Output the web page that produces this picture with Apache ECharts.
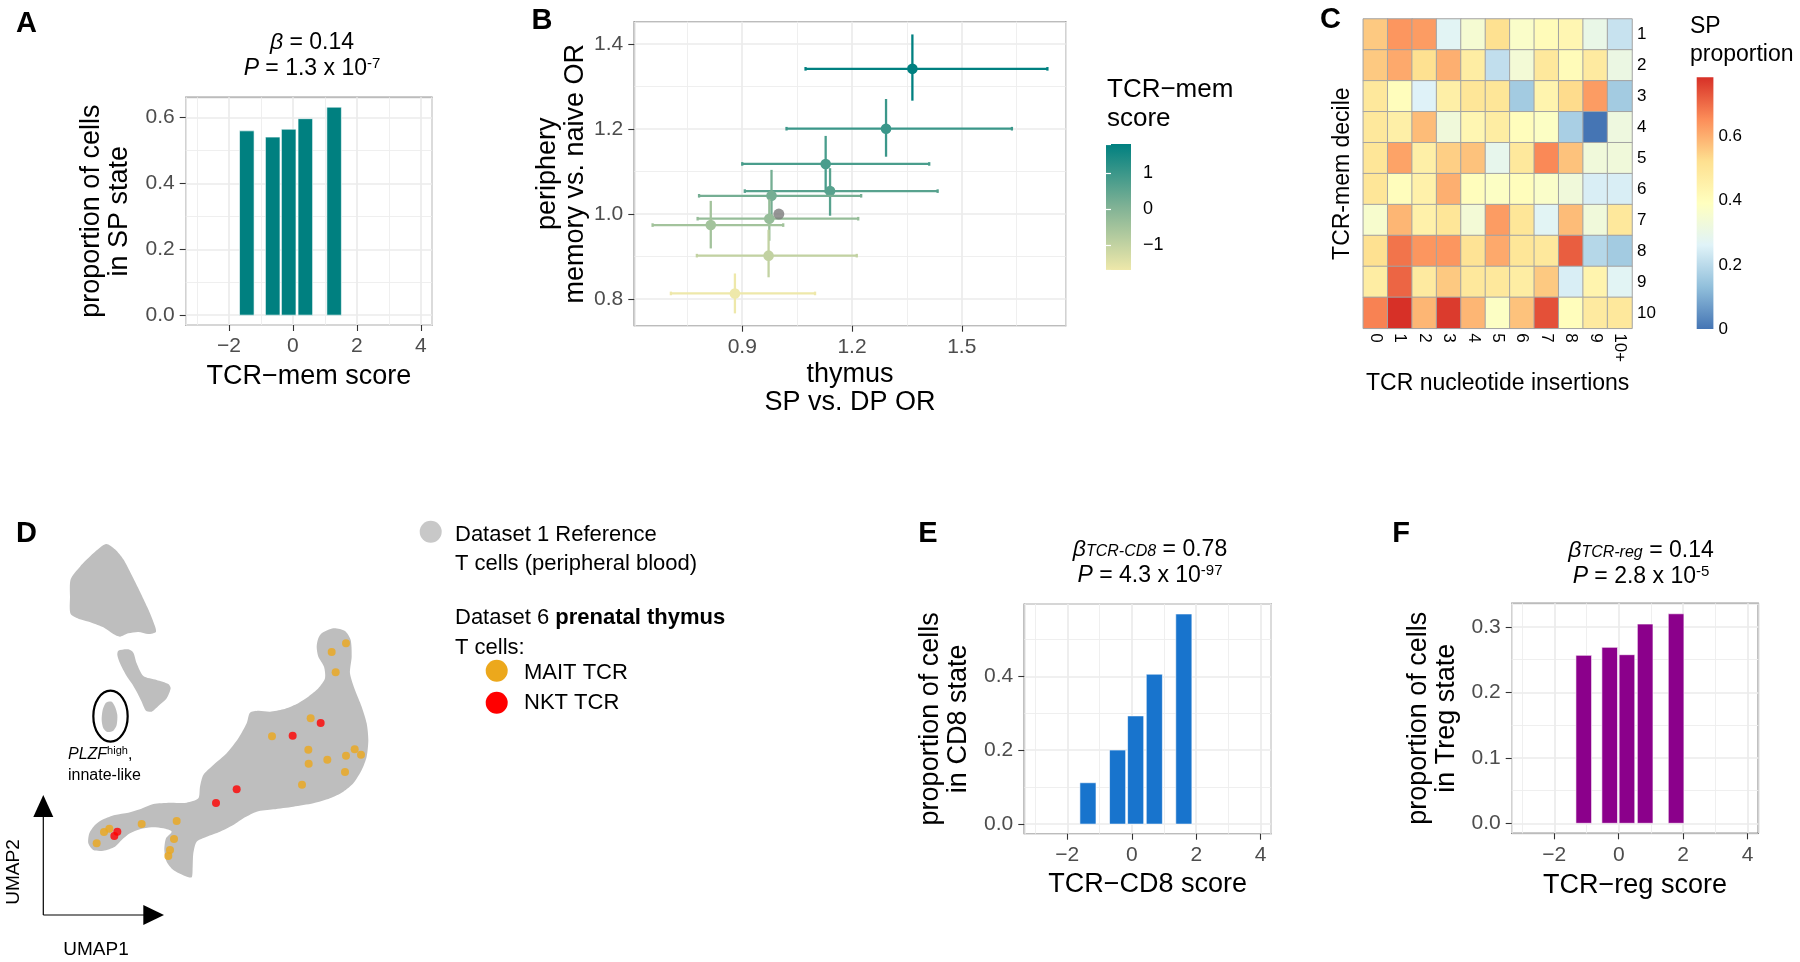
<!DOCTYPE html>
<html><head><meta charset="utf-8">
<script src="https://cdn.jsdelivr.net/npm/echarts@6/dist/echarts.min.js"></script>
<style>html,body{margin:0;padding:0;background:#fff}#c{width:1800px;height:962px}</style>
</head><body><div id="c"></div>
<script>
// ---------------- Panel A : TCR-mem score vs SP proportion
const aScore = [-1.44, -0.63, -0.13, 0.39, 1.29];
const aProp  = [0.560, 0.541, 0.565, 0.597, 0.632];

// ---------------- Panel B : odds ratios by TCR-mem score decile
const bThymusOR = [1.365, 1.293, 1.128, 1.140, 0.980, 0.974, 0.814, 0.972, 0.880];
const bThymusLo = [1.073, 1.021, 0.900, 0.907, 0.782, 0.778, 0.655, 0.776, 0.705];
const bThymusHi = [1.734, 1.637, 1.411, 1.434, 1.225, 1.217, 1.012, 1.213, 1.099];
const bPeriphOR = [1.342, 1.201, 1.118, 1.054, 1.043, 0.989, 0.974, 0.902, 0.813];
const bPeriphLo = [1.267, 1.135, 1.050, 0.996, 0.986, 0.937, 0.919, 0.851, 0.766];
const bPeriphHi = [1.423, 1.271, 1.184, 1.108, 1.104, 1.035, 1.031, 0.963, 0.860];
const bMemScore = [1.8, 1.0, 0.8, 0.6, 0.2, -0.3, -0.5, -1.0, -1.7];
const bReference = [1.0, 1.0];

// ---------------- Panel C : SP proportion heatmap
const insertionLabels = ['0','1','2','3','4','5','6','7','8','9','10+'];
const decileLabels = ['1','2','3','4','5','6','7','8','9','10'];
const spProp = [
  [0.56, 0.64, 0.63, 0.27, 0.35, 0.52, 0.37, 0.41, 0.43, 0.30, 0.22],
  [0.56, 0.61, 0.52, 0.60, 0.47, 0.21, 0.34, 0.49, 0.41, 0.48, 0.31],
  [0.49, 0.40, 0.26, 0.46, 0.50, 0.50, 0.16, 0.44, 0.53, 0.63, 0.16],
  [0.49, 0.46, 0.58, 0.33, 0.43, 0.47, 0.40, 0.38, 0.17, 0.00, 0.32],
  [0.50, 0.62, 0.46, 0.55, 0.57, 0.29, 0.49, 0.66, 0.57, 0.33, 0.33],
  [0.50, 0.40, 0.45, 0.60, 0.40, 0.38, 0.40, 0.37, 0.33, 0.25, 0.25],
  [0.36, 0.59, 0.45, 0.50, 0.34, 0.63, 0.50, 0.27, 0.58, 0.33, 0.49],
  [0.52, 0.69, 0.64, 0.64, 0.51, 0.61, 0.50, 0.49, 0.72, 0.19, 0.16],
  [0.47, 0.71, 0.48, 0.56, 0.49, 0.49, 0.47, 0.56, 0.25, 0.44, 0.27],
  [0.67, 0.785, 0.59, 0.77, 0.59, 0.38, 0.57, 0.74, 0.40, 0.48, 0.49]
];

// ---------------- Panel D : UMAP (reference outline + query cells), UMAP units
const umapUpper = [[3.18,12.54],[3.45,12.38],[3.70,12.08],[3.95,11.61],[4.20,11.11],[4.42,10.64],[4.58,10.26],[4.68,9.91],[4.45,9.84],[4.15,9.90],[3.85,9.86],[3.60,9.76],[3.40,9.84],[3.10,10.04],[2.75,10.18],[2.40,10.28],[2.12,10.44],[2.10,10.96],[2.12,11.48],[2.40,11.86],[2.80,12.26]];
const umapMiddle = [[3.55,9.34],[3.85,9.38],[4.00,9.28],[4.10,8.96],[4.30,8.58],[4.70,8.46],[5.05,8.34],[5.12,8.21],[5.00,7.91],[4.75,7.68],[4.55,7.51],[4.38,7.54],[4.25,7.81],[4.10,8.11],[3.95,8.36],[3.78,8.61],[3.60,8.96],[3.52,9.21]];
const umapIsland = [[3.18,7.78],[3.35,7.81],[3.45,7.66],[3.52,7.41],[3.50,7.11],[3.40,6.94],[3.22,6.90],[3.10,7.01],[3.05,7.26],[3.08,7.56]];
const umapMain = [[9.65,9.86],[10.00,10.01],[10.35,9.93],[10.52,9.66],[10.55,9.16],[10.50,8.66],[10.65,8.16],[10.85,7.66],[11.00,7.16],[11.05,6.66],[11.00,6.16],[10.85,5.76],[10.60,5.36],[10.30,5.11],[9.90,4.91],[9.40,4.76],[8.80,4.66],[8.20,4.58],[7.70,4.51],[7.35,4.34],[7.00,4.11],[6.60,3.91],[6.20,3.76],[5.90,3.61],[5.80,3.26],[5.78,2.86],[5.75,2.54],[5.55,2.58],[5.20,2.76],[5.00,3.01],[4.93,3.36],[4.98,3.71],[5.15,3.91],[4.90,4.01],[4.55,4.04],[4.20,3.98],[3.90,3.86],[3.65,3.66],[3.45,3.46],[3.10,3.34],[2.80,3.36],[2.65,3.56],[2.68,3.86],[2.85,4.11],[3.10,4.28],[3.45,4.41],[3.85,4.48],[4.20,4.58],[4.60,4.74],[5.10,4.78],[5.60,4.78],[5.95,4.91],[6.00,5.26],[6.10,5.61],[6.40,5.91],[6.80,6.26],[7.15,6.71],[7.40,7.16],[7.50,7.48],[7.75,7.54],[8.10,7.51],[8.50,7.58],[8.90,7.74],[9.25,7.96],[9.55,8.21],[9.75,8.51],[9.72,8.86],[9.55,9.16],[9.50,9.46],[9.55,9.71]];
const plzfCluster = [3.315, 7.375, 0.515, 0.765]; // centre u1, u2 and half-extents
const maitU1 = [10.38, 9.95, 10.07, 9.32, 8.16, 9.25, 9.26, 9.82, 10.38, 10.64, 10.83, 10.35, 9.06, 5.30, 4.25, 5.22, 5.10, 5.05, 2.90, 3.12, 3.28];
const maitU2 = [9.56, 9.30, 8.69, 7.31, 6.77, 6.37, 5.95, 6.07, 6.19, 6.38, 6.22, 5.70, 5.32, 4.23, 4.14, 3.69, 3.36, 3.18, 3.56, 3.90, 4.00];
const nktU1 = [9.62, 8.78, 7.10, 6.48, 3.52, 3.43];
const nktU2 = [7.17, 6.79, 5.18, 4.77, 3.91, 3.78];

// ---------------- Panel E / F
const eScore = [-1.36, -0.44, 0.12, 0.70, 1.615];
const eProp  = [0.112, 0.2005, 0.293, 0.406, 0.569];
const fScore = [-1.085, -0.28, 0.255, 0.82, 1.78];
const fProp  = [0.2565, 0.2687, 0.2575, 0.3043, 0.320];

// ================= styling helpers
const FONT = "'Liberation Sans', Arial, Helvetica, sans-serif";
const minusFmt = v => (v < 0 ? '\u2212' : '') + Math.abs(v);
const dec1 = v => v.toFixed(1);
const memColors = ['#EEE8AA', '#80B295', '#008080'];
const rdylbu = ['#4575B4', '#91BFDB', '#E0F3F8', '#FFFFBF', '#FEE090', '#FC8D59', '#D73027'];
const bMin = Math.min(...bMemScore), bMax = Math.max(...bMemScore);
const cFlat = spProp.flat();
const cMin = Math.min(...cFlat), cMax = Math.max(...cFlat);

function valAxis(gi, min, max, split, fmt, name, gap, extra) {
  return Object.assign({
    type: 'value', gridIndex: gi, min: min, max: max, splitNumber: split,
    name: name, nameLocation: 'middle', nameGap: gap, nameMoveOverlap: false,
    nameTextStyle: {fontFamily: FONT, fontSize: 27, color: '#000', lineHeight: 28},
    axisLine: {show: false, onZero: false},
    axisTick: {show: true, length: 6, lineStyle: {color: '#333', width: 1.1}},
    axisLabel: {show: true, showMinLabel: false, showMaxLabel: false, color: '#4D4D4D',
      fontFamily: FONT, fontSize: 21, margin: 11, formatter: fmt},
    splitLine: {show: true, lineStyle: {color: '#EBEBEB', width: 1.7}},
    minorTick: {show: false, splitNumber: 2},
    minorSplitLine: {show: true, lineStyle: {color: '#EDEDED', width: 0.9}}
  }, extra || {});
}
function hidden(gi, type, min, max) {
  return {type: type, gridIndex: gi, min: min, max: max, show: false};
}
function ggGrid(l, t, w, h) {
  return {left: l, top: t, width: w, height: h, show: true, borderColor: '#333', borderWidth: 1.2,
    backgroundColor: '#fff', containLabel: false, outerBoundsMode: 'none'};
}
function plainGrid(l, t, w, h) {
  return {left: l, top: t, width: w, height: h, show: false, containLabel: false, outerBoundsMode: 'none'};
}
function barRender(width, color) {
  return function (params, api) {
    const c = api.value(0), h = api.value(1);
    const p0 = api.coord([c - width / 2, h]);
    const p1 = api.coord([c + width / 2, 0]);
    return {type: 'rect', shape: {x: p0[0], y: p0[1], width: p1[0] - p0[0], height: p1[1] - p0[1]},
      style: {fill: color, stroke: '#ffffff', lineWidth: 0.6}};
  };
}
function errRender(params, api) {
  const x = api.value(0), y = api.value(1);
  const p = api.coord([x, y]);
  const xl = api.coord([api.value(2), y]), xh = api.coord([api.value(3), y]);
  const yl = api.coord([x, api.value(4)]), yh = api.coord([x, api.value(5)]);
  const color = api.visual('color');
  const ls = () => ({stroke: color, lineWidth: 2.3});
  return {type: 'group', children: [
    {type: 'line', shape: {x1: xl[0], y1: p[1], x2: xh[0], y2: p[1]}, style: ls()},
    {type: 'line', shape: {x1: xl[0], y1: p[1] - 1.8, x2: xl[0], y2: p[1] + 1.8}, style: ls()},
    {type: 'line', shape: {x1: xh[0], y1: p[1] - 1.8, x2: xh[0], y2: p[1] + 1.8}, style: ls()},
    {type: 'line', shape: {x1: p[0], y1: yl[1], x2: p[0], y2: yh[1]}, style: ls()},
    {type: 'circle', shape: {cx: p[0], cy: p[1], r: 5.3}, style: {fill: color}}
  ]};
}
function gradientBar(lo, hi, colors) {
  return function (params, api) {
    const a = api.coord([0, hi]), b = api.coord([1, lo]);
    const stops = colors.map((c, i) => ({offset: i / (colors.length - 1), color: c}));
    return {type: 'rect', shape: {x: a[0], y: a[1], width: b[0] - a[0], height: b[1] - a[1]},
      style: {fill: new echarts.graphic.LinearGradient(0, 1, 0, 0, stops)}};
  };
}
const umapShapes = [umapUpper, umapMiddle, umapIsland, umapMain];

const titleStyle = {
  fontFamily: FONT, fontSize: 23, fontWeight: 'normal', color: '#000', lineHeight: 26,
  rich: {
    i: {fontFamily: FONT, fontSize: 23, fontStyle: 'italic', color: '#000', lineHeight: 26},
    sub: {fontFamily: FONT, fontSize: 16, fontStyle: 'italic', color: '#000', lineHeight: 26, verticalAlign: 'middle', padding: [4, 0, 0, 0]},
    sup: {fontFamily: FONT, fontSize: 15, color: '#000', lineHeight: 15, verticalAlign: 'top'}
  }
};
function txt(x, y, text, size, extra) {
  return {type: 'text', x: x, y: y, style: Object.assign({text: text, fontFamily: FONT, fontSize: size,
    fill: '#000', align: 'left', verticalAlign: 'middle'}, extra || {})};
}
function letter(x, y, t) {
  return txt(x, y, t, 29, {fontWeight: 'bold', align: 'center'});
}

const option = {
  animation: false,
  backgroundColor: '#fff',
  title: [
    {text: '{i|β} = 0.14\n{i|P} = 1.3 x 10{sup|-7}', left: 312, top: 30, textAlign: 'center', padding: 0, textStyle: titleStyle},
    {text: '{i|β}{sub|TCR-CD8} = 0.78\n{i|P} = 4.3 x 10{sup|-97}', left: 1150, top: 537, textAlign: 'center', padding: 0, textStyle: titleStyle},
    {text: '{i|β}{sub|TCR-reg} = 0.14\n{i|P} = 2.8 x 10{sup|-5}', left: 1641, top: 538, textAlign: 'center', padding: 0, textStyle: titleStyle}
  ],
  grid: [
    ggGrid(185.7, 97.3, 246.3, 227.7),      // 0 A
    ggGrid(634.3, 21.7, 431.4, 304),        // 1 B
    plainGrid(1106, 144, 25, 126),          // 2 B colour bar
    plainGrid(1363.3, 19, 268.7, 309.3),    // 3 C heatmap
    plainGrid(1696.7, 77.3, 16.7, 251.7),   // 4 C colour bar
    plainGrid(0, 520, 400, 442),            // 5 D umap
    ggGrid(1024.3, 604, 246.7, 229.7),      // 6 E
    ggGrid(1511.7, 603.3, 246.6, 230)       // 7 F
  ],
  xAxis: [
    valAxis(0, -3.35, 4.35, 4, minusFmt, 'TCR\u2212mem score', 38),
    valAxis(1, 0.605, 1.784, 4, dec1, 'thymus\nSP vs. DP OR', 35),
    hidden(2, 'value', 0, 1),
    {type: 'category', gridIndex: 3, data: insertionLabels, axisLine: {show: false}, axisTick: {show: false},
      splitLine: {show: false},
      axisLabel: {rotate: -90, margin: 5, fontFamily: FONT, fontSize: 17, color: '#000'},
      name: 'TCR nucleotide insertions', nameLocation: 'middle', nameGap: 42, nameMoveOverlap: false,
      nameTextStyle: {fontFamily: FONT, fontSize: 23, color: '#000', lineHeight: 26}},
    hidden(4, 'value', 0, 1),
    hidden(5, 'value', 0, 12),
    valAxis(6, -3.335, 4.32, 4, minusFmt, 'TCR\u2212CD8 score', 37),
    valAxis(7, -3.32, 4.33, 4, minusFmt, 'TCR\u2212reg score', 38)
  ],
  yAxis: [
    valAxis(0, -0.03, 0.662, 4, dec1, 'proportion of cells\nin SP state', 52, {nameRotate: 90}),
    valAxis(1, 0.737, 1.453, 4, dec1, 'periphery\nmemory vs. naive OR', 45, {nameRotate: 90}),
    {type: 'value', gridIndex: 2, min: bMin, max: bMax, splitNumber: 4, position: 'right', z: 10,
      axisLine: {show: false}, splitLine: {show: false},
      axisTick: {show: true, inside: true, length: 5, lineStyle: {color: '#fff', width: 1.2}},
      axisLabel: {showMinLabel: false, showMaxLabel: false, margin: 12, fontFamily: FONT, fontSize: 18,
        color: '#000', formatter: minusFmt}},
    {type: 'value', gridIndex: 2, min: bMin, max: bMax, splitNumber: 4, position: 'left', z: 10,
      axisLine: {show: false}, splitLine: {show: false}, axisLabel: {show: false},
      axisTick: {show: true, inside: true, length: 5, lineStyle: {color: '#fff', width: 1.2}}},
    {type: 'category', gridIndex: 3, data: decileLabels, inverse: true, position: 'right',
      axisLine: {show: false}, axisTick: {show: false}, splitLine: {show: false},
      axisLabel: {margin: 5, fontFamily: FONT, fontSize: 17, color: '#000'}},
    {type: 'category', gridIndex: 3, data: decileLabels, inverse: true, position: 'left',
      axisLine: {show: false}, axisTick: {show: false}, splitLine: {show: false}, axisLabel: {show: false},
      name: 'TCR-mem decile', nameLocation: 'middle', nameGap: 8, nameRotate: 90, nameMoveOverlap: false,
      nameTextStyle: {fontFamily: FONT, fontSize: 23, color: '#000', lineHeight: 26}},
    {type: 'value', gridIndex: 4, min: cMin, max: cMax, splitNumber: 4, position: 'right',
      axisLine: {show: false}, axisTick: {show: false}, splitLine: {show: false},
      axisLabel: {showMinLabel: true, showMaxLabel: false, margin: 5, fontFamily: FONT, fontSize: 17,
        color: '#000', formatter: v => (v === 0 ? '0' : v.toFixed(1))}},
    hidden(5, 'value', 0, 13.26),
    valAxis(6, -0.026, 0.596, 3, dec1, 'proportion of cells\nin CD8 state', 52, {nameRotate: 90}),
    valAxis(7, -0.0153, 0.336, 4, dec1, 'proportion of cells\nin Treg state', 51, {nameRotate: 90})
  ],
  visualMap: [
    {type: 'continuous', seriesIndex: 1, dimension: 6, min: bMin, max: bMax, show: false,
      inRange: {color: memColors}},
    {type: 'continuous', seriesIndex: 4, dimension: 2, min: cMin, max: cMax, show: false,
      inRange: {color: rdylbu}}
  ],
  series: [
    {type: 'custom', xAxisIndex: 0, yAxisIndex: 0, renderItem: barRender(0.455, '#008080'),
      encode: {x: 0, y: 1}, data: aScore.map((s, i) => [s, aProp[i]])},
    {type: 'custom', xAxisIndex: 1, yAxisIndex: 1, renderItem: errRender, encode: {x: 0, y: 1},
      data: bThymusOR.map((x, i) => [x, bPeriphOR[i], bThymusLo[i], bThymusHi[i], bPeriphLo[i], bPeriphHi[i], bMemScore[i]])},
    {type: 'scatter', xAxisIndex: 1, yAxisIndex: 1, symbolSize: 11, z: 5,
      itemStyle: {color: '#7A7A7A'}, data: [bReference]},
    {type: 'custom', xAxisIndex: 2, yAxisIndex: 2, renderItem: gradientBar(bMin, bMax, memColors), data: [[0]]},
    {type: 'heatmap', xAxisIndex: 3, yAxisIndex: 4,
      itemStyle: {borderColor: '#A3A3A3', borderWidth: 1},
      emphasis: {disabled: true},
      data: spProp.flatMap((row, r) => row.map((v, c) => [c, r, v]))},
    {type: 'custom', xAxisIndex: 4, yAxisIndex: 6, renderItem: gradientBar(cMin, cMax, rdylbu), data: [[0]]},
    {type: 'custom', xAxisIndex: 5, yAxisIndex: 7, data: umapShapes.map((s, i) => [i]),
      renderItem: function (params, api) {
        const pts = umapShapes[params.dataIndex].map(p => api.coord(p));
        return {type: 'polygon', shape: {points: pts, smooth: 0.25}, style: {fill: '#BEBEBE'}};
      }},
    {type: 'custom', xAxisIndex: 5, yAxisIndex: 7, data: [plzfCluster],
      renderItem: function (params, api) {
        const c = api.coord([api.value(0), api.value(1)]);
        const s = api.size([api.value(2), api.value(3)]);
        return {type: 'ellipse', shape: {cx: c[0], cy: c[1], rx: s[0], ry: s[1]},
          style: {fill: 'none', stroke: '#000', lineWidth: 2.2}};
      }},
    {type: 'scatter', xAxisIndex: 5, yAxisIndex: 7, symbolSize: 8, itemStyle: {color: '#ECA81C'},
      data: maitU1.map((u, i) => [u, maitU2[i]])},
    {type: 'scatter', xAxisIndex: 5, yAxisIndex: 7, symbolSize: 8, itemStyle: {color: '#FF0000'},
      data: nktU1.map((u, i) => [u, nktU2[i]])},
    {type: 'custom', xAxisIndex: 6, yAxisIndex: 8, renderItem: barRender(0.5, '#1874CD'),
      encode: {x: 0, y: 1}, data: eScore.map((s, i) => [s, eProp[i]])},
    {type: 'custom', xAxisIndex: 7, yAxisIndex: 9, renderItem: barRender(0.485, '#8B008B'),
      encode: {x: 0, y: 1}, data: fScore.map((s, i) => [s, fProp[i]])}
  ],
  graphic: {elements: [
    letter(26.5, 23.5, 'A'), letter(542, 21, 'B'), letter(1330.5, 20, 'C'),
    letter(26.5, 534, 'D'), letter(928, 534, 'E'), letter(1401, 534, 'F'),
    txt(1107, 75, 'TCR\u2212mem\nscore', 26, {verticalAlign: 'top', lineHeight: 29}),
    txt(1690, 13, 'SP\nproportion', 23, {verticalAlign: 'top', lineHeight: 28}),
    // panel D annotations
    txt(68, 755, '{i|PLZF}{s|high},', 16, {lineHeight: 20, rich: {
      i: {fontFamily: FONT, fontSize: 16, fontStyle: 'italic', lineHeight: 20},
      s: {fontFamily: FONT, fontSize: 11, lineHeight: 11, verticalAlign: 'top'}}}),
    txt(68, 776, 'innate-like', 16),
    {type: 'polyline', shape: {points: [[43.3, 915], [43.3, 812]]}, style: {stroke: '#000', lineWidth: 1.2}},
    {type: 'polyline', shape: {points: [[43.3, 915], [144, 915]]}, style: {stroke: '#000', lineWidth: 1.2}},
    {type: 'polygon', shape: {points: [[33.3, 817], [53.3, 817], [43.3, 795]]}, style: {fill: '#000'}},
    {type: 'polygon', shape: {points: [[143.3, 905], [143.3, 925], [164, 915]]}, style: {fill: '#000'}},
    {type: 'text', x: 13.5, y: 872, rotation: Math.PI / 2,
      style: {text: 'UMAP2', fontFamily: FONT, fontSize: 19, fill: '#000', align: 'center', verticalAlign: 'middle'}},
    txt(96, 950, 'UMAP1', 19, {align: 'center'}),
    // panel D legend
    {type: 'circle', shape: {cx: 430.7, cy: 531.7, r: 11}, style: {fill: '#C8C8C8'}},
    txt(455, 535, 'Dataset 1 Reference', 22),
    txt(455, 564, 'T cells (peripheral blood)', 22),
    txt(455, 618, 'Dataset 6 {b|prenatal thymus}', 22, {rich: {b: {fontFamily: FONT, fontSize: 22, fontWeight: 'bold'}}}),
    txt(455, 648, 'T cells:', 22),
    {type: 'circle', shape: {cx: 496.7, cy: 670.7, r: 11}, style: {fill: '#ECA81C'}},
    txt(524, 673, 'MAIT TCR', 22),
    {type: 'circle', shape: {cx: 496.7, cy: 702.7, r: 11}, style: {fill: '#FF0000'}},
    txt(524, 703, 'NKT TCR', 22)
  ]}
};

const chart = echarts.init(document.getElementById('c'), null, {renderer: 'canvas'});
chart.setOption(option);
</script>
</body></html>
